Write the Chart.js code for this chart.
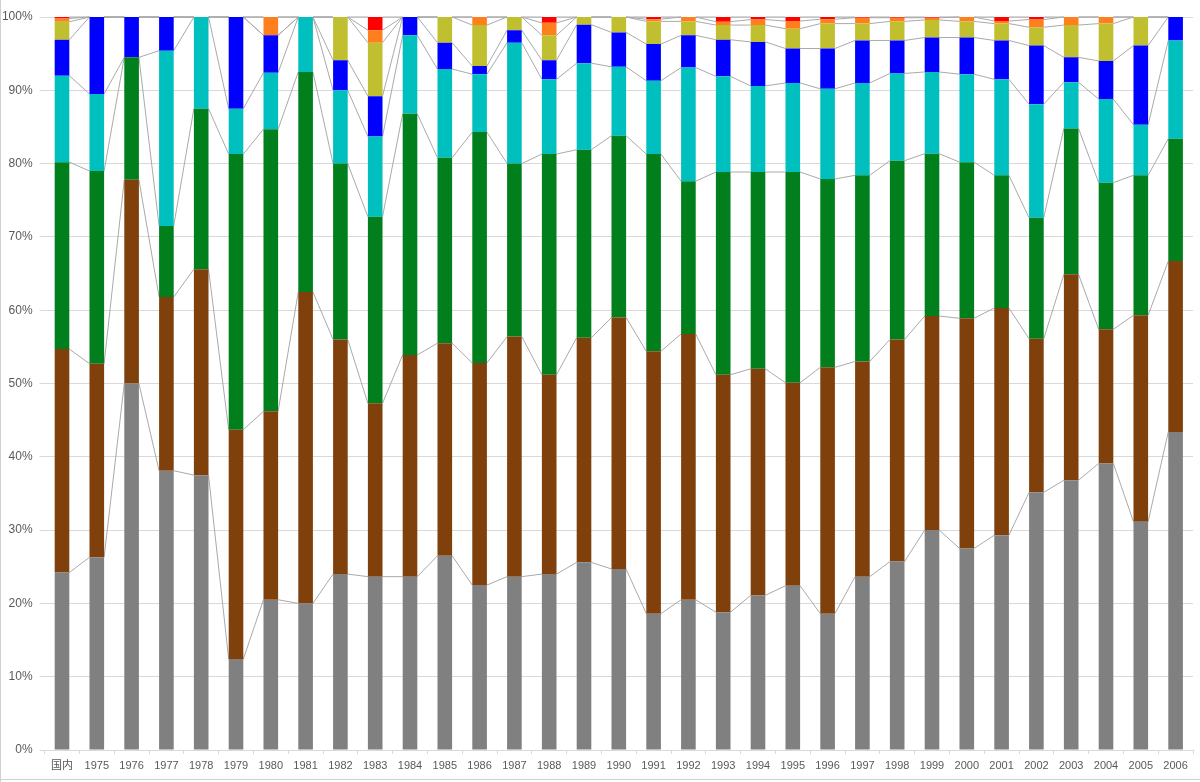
<!DOCTYPE html>
<html>
<head>
<meta charset="utf-8">
<script src="https://cdn.jsdelivr.net/npm/chart.js@4/dist/chart.umd.min.js"></script>
<style>
  html, body { margin: 0; padding: 0; background: #fff; }
  #wrap { position: relative; width: 1200px; height: 782px; }
  canvas { display: block; }
</style>
</head>
<body>
<div id="wrap"><canvas id="c" width="1200" height="782"></canvas></div>
<script>
// ---- data (percent shares, bottom to top) ----
const categories = ['国内','1975','1976','1977','1978','1979','1980','1981','1982','1983','1984','1985','1986','1987','1988','1989','1990','1991','1992','1993','1994','1995','1996','1997','1998','1999','2000','2001','2002','2003','2004','2005','2006'];

const graySeries   = [24.2, 26.3, 50.0, 38.1, 37.5, 12.4, 20.5, 20.0, 24.0, 23.65, 23.65, 26.5, 22.5, 23.65, 24.0, 25.6, 24.7, 18.6, 20.5, 18.8, 21.1, 22.4, 18.6, 23.65, 25.7, 30.0, 27.5, 29.3, 35.15, 36.8, 39.1, 31.15, 43.4];
const brownSeries  = [30.5, 26.4, 27.8, 23.7, 28.1, 31.3, 25.7, 42.5, 32.0, 23.65, 30.25, 29.0, 30.3, 32.75, 27.2, 30.65, 34.3, 35.8, 36.25, 32.4, 30.9, 27.7, 33.6, 29.35, 30.3, 29.2, 31.4, 31.0, 20.95, 28.1, 18.3, 28.15, 23.3];
const greenSeries  = [25.5, 26.3, 16.7, 9.7, 21.9, 37.6, 38.5, 30.0, 24.0, 25.45, 32.9, 25.3, 31.5, 23.6, 30.1, 25.65, 24.8, 26.9, 20.85, 27.65, 26.85, 28.75, 25.7, 25.4, 24.4, 22.15, 21.3, 18.1, 16.5, 19.9, 20.0, 19.1, 16.7];
const cyanSeries   = [11.8, 10.5, 0, 23.9, 12.5, 6.2, 7.7, 7.5, 10.0, 10.95, 10.7, 12.1, 7.9, 16.5, 10.2, 11.8, 9.4, 10.0, 15.5, 13.05, 11.75, 12.15, 12.3, 12.6, 11.9, 11.15, 12.0, 13.1, 15.5, 6.3, 11.4, 6.9, 13.4];
const blueSeries   = [4.9, 10.5, 5.5, 4.6, 0, 12.5, 5.1, 0, 4.1, 5.5, 2.5, 3.6, 1.1, 1.7, 2.6, 5.25, 4.7, 5.0, 4.4, 5.0, 6.0, 4.7, 5.5, 5.8, 4.5, 4.7, 5.0, 5.3, 8.0, 3.4, 5.2, 10.8, 3.2];
const oliveSeries  = [2.45, 0, 0, 0, 0, 0, 0, 0, 5.9, 7.3, 0, 3.5, 5.6, 1.8, 3.4, 1.05, 2.1, 3.1, 1.9, 2.0, 2.3, 2.7, 3.4, 2.3, 2.6, 2.4, 2.2, 2.3, 2.5, 4.4, 5.1, 3.9, 0];
const orangeSeries = [0.45, 0, 0, 0, 0, 0, 2.5, 0, 0, 1.7, 0, 0, 1.1, 0, 1.7, 0, 0, 0.3, 0.6, 0.46, 0.75, 1.05, 0.6, 0.8, 0.5, 0.3, 0.6, 0.35, 1.05, 1.1, 0.9, 0, 0];
const redSeries    = [0.2, 0, 0, 0, 0, 0, 0, 0, 0, 1.8, 0, 0, 0, 0, 0.8, 0, 0, 0.3, 0, 0.64, 0.35, 0.55, 0.3, 0.1, 0.1, 0.1, 0, 0.55, 0.35, 0, 0, 0, 0];

const yTickValues = [0, 10, 20, 30, 40, 50, 60, 70, 80, 90, 100];

// ---- styling ----
const seriesList = [
  { data: graySeries,   color: '#808080' },
  { data: brownSeries,  color: '#7f400c' },
  { data: greenSeries,  color: '#007f1c' },
  { data: cyanSeries,   color: '#00bfbf' },
  { data: blueSeries,   color: '#0000ff' },
  { data: oliveSeries,  color: '#bfbf2f' },
  { data: orangeSeries, color: '#ff7f1f' },
  { data: redSeries,    color: '#ff0000' }
];

const FONT = '"Liberation Sans", Arial, "Noto Sans CJK JP", sans-serif';

// series lines connecting segment tops between adjacent bars
const seriesLines = {
  id: 'seriesLines',
  beforeDatasetsDraw(chart) {
    const ctx = chart.ctx;
    ctx.save();
    ctx.strokeStyle = '#aaaaaa';
    ctx.lineWidth = 1;
    chart.data.datasets.forEach((ds, d) => {
      const meta = chart.getDatasetMeta(d);
      const els = meta.data;
      ctx.beginPath();
      for (let i = 0; i < els.length - 1; i++) {
        const a = els[i].getProps(['x', 'y', 'width'], true);
        const b = els[i + 1].getProps(['x', 'y', 'width'], true);
        ctx.moveTo(a.x + a.width / 2, a.y);
        ctx.lineTo(b.x - b.width / 2, b.y);
      }
      ctx.stroke();
    });
    ctx.restore();
  }
};

const frame = {
  id: 'frame',
  beforeDraw(chart) {
    const ctx = chart.ctx;
    ctx.save();
    ctx.fillStyle = '#ffffff';
    ctx.fillRect(0, 0, chart.width, chart.height);
    ctx.strokeStyle = '#d0d0d0';
    ctx.lineWidth = 1;
    ctx.beginPath();
    ctx.moveTo(0.5, 0);
    ctx.lineTo(0.5, chart.height);
    ctx.moveTo(0, chart.height - 2.5);
    ctx.lineTo(chart.width, chart.height - 2.5);
    ctx.stroke();
    ctx.restore();
  }
};

new Chart(document.getElementById('c'), {
  type: 'bar',
  data: {
    labels: categories,
    datasets: seriesList.map(s => ({
      data: s.data,
      backgroundColor: s.color,
      borderWidth: 0,
      barPercentage: 0.42,
      categoryPercentage: 1.0
    }))
  },
  options: {
    responsive: false,
    animation: false,
    layout: { padding: { top: 17, right: 7, left: 0, bottom: 0 } },
    plugins: { legend: { display: false }, tooltip: { enabled: false } },
    scales: {
      x: {
        stacked: true,
        grid: { display: true, drawOnChartArea: false, drawTicks: true, tickLength: 4, color: '#d9d9d9', offset: true },
        border: { display: false },
        ticks: { color: '#595959', font: { family: FONT, size: 11 }, padding: 5, maxRotation: 0, autoSkip: false },
        afterFit(scale) { scale.height = 32; }
      },
      y: {
        stacked: true,
        min: 0,
        max: 100,
        afterBuildTicks(scale) { scale.ticks = yTickValues.map(v => ({ value: v })); },
        grid: { color: '#d9d9d9', lineWidth: 1, drawTicks: true, tickLength: 5 },
        border: { display: false },
        ticks: { color: '#595959', font: { family: FONT, size: 12 }, padding: 7, callback: v => v + '%' },
        afterFit(scale) { scale.width = 44.6; }
      }
    }
  },
  plugins: [frame, seriesLines]
});
</script>
</body>
</html>
